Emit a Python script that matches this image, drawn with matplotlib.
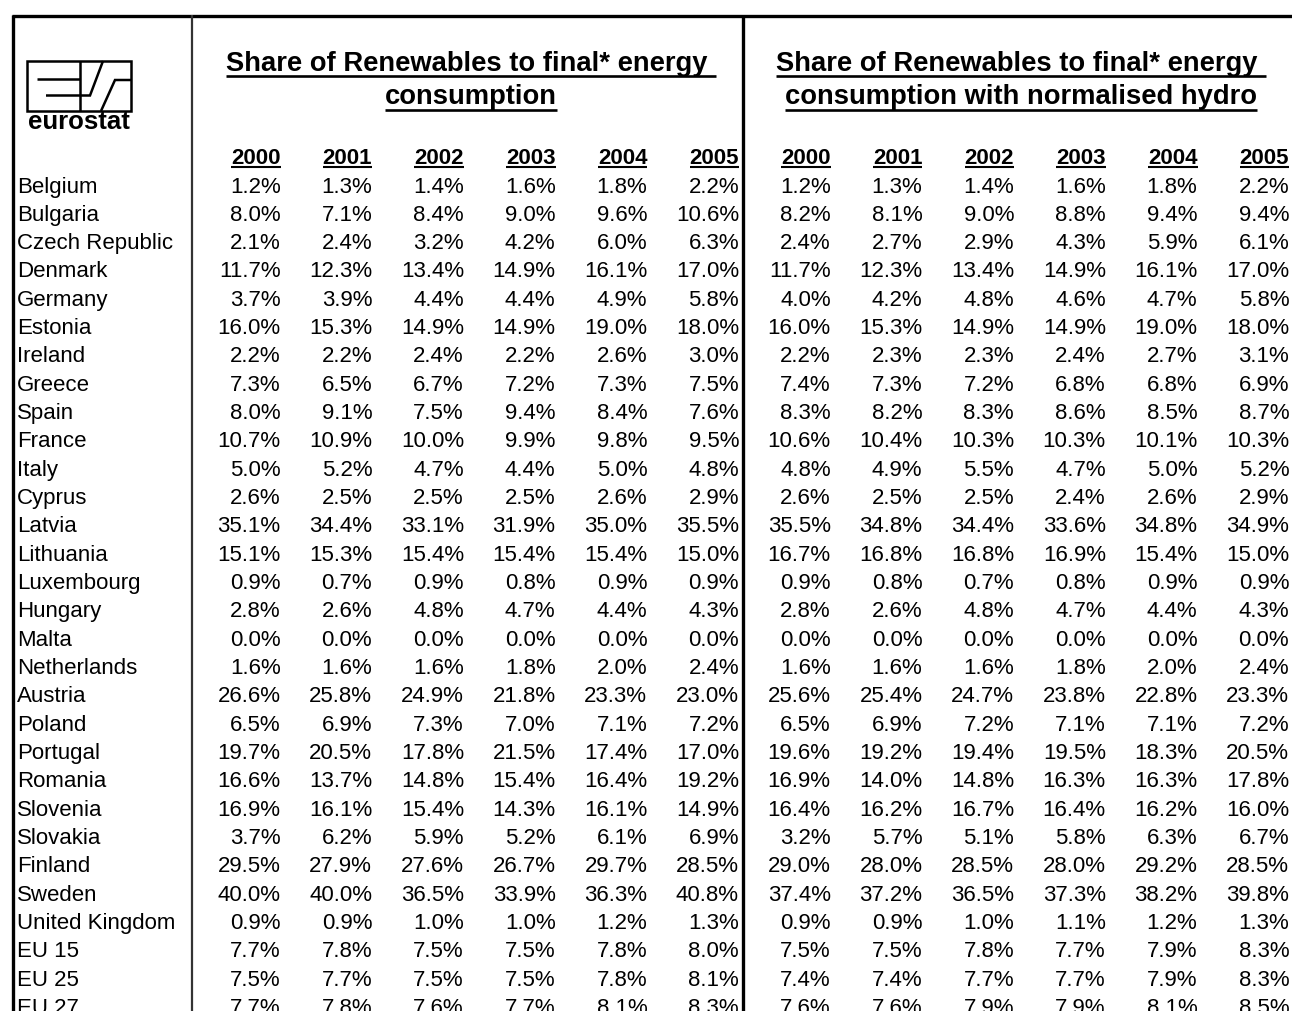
import matplotlib.pyplot as plt
from matplotlib.patches import Rectangle

plt.rcParams['font.family'] = ['Liberation Sans', 'DejaVu Sans']

countries = ['Belgium', 'Bulgaria', 'Czech Republic', 'Denmark', 'Germany', 'Estonia',
             'Ireland', 'Greece', 'Spain', 'France', 'Italy', 'Cyprus', 'Latvia',
             'Lithuania', 'Luxembourg', 'Hungary', 'Malta', 'Netherlands', 'Austria',
             'Poland', 'Portugal', 'Romania', 'Slovenia', 'Slovakia', 'Finland',
             'Sweden', 'United Kingdom', 'EU 15', 'EU 25', 'EU 27']
years = ['2000', '2001', '2002', '2003', '2004', '2005']

# share of renewables to final energy consumption (%)
share = [
    [1.2, 1.3, 1.4, 1.6, 1.8, 2.2],
    [8.0, 7.1, 8.4, 9.0, 9.6, 10.6],
    [2.1, 2.4, 3.2, 4.2, 6.0, 6.3],
    [11.7, 12.3, 13.4, 14.9, 16.1, 17.0],
    [3.7, 3.9, 4.4, 4.4, 4.9, 5.8],
    [16.0, 15.3, 14.9, 14.9, 19.0, 18.0],
    [2.2, 2.2, 2.4, 2.2, 2.6, 3.0],
    [7.3, 6.5, 6.7, 7.2, 7.3, 7.5],
    [8.0, 9.1, 7.5, 9.4, 8.4, 7.6],
    [10.7, 10.9, 10.0, 9.9, 9.8, 9.5],
    [5.0, 5.2, 4.7, 4.4, 5.0, 4.8],
    [2.6, 2.5, 2.5, 2.5, 2.6, 2.9],
    [35.1, 34.4, 33.1, 31.9, 35.0, 35.5],
    [15.1, 15.3, 15.4, 15.4, 15.4, 15.0],
    [0.9, 0.7, 0.9, 0.8, 0.9, 0.9],
    [2.8, 2.6, 4.8, 4.7, 4.4, 4.3],
    [0.0, 0.0, 0.0, 0.0, 0.0, 0.0],
    [1.6, 1.6, 1.6, 1.8, 2.0, 2.4],
    [26.6, 25.8, 24.9, 21.8, 23.3, 23.0],
    [6.5, 6.9, 7.3, 7.0, 7.1, 7.2],
    [19.7, 20.5, 17.8, 21.5, 17.4, 17.0],
    [16.6, 13.7, 14.8, 15.4, 16.4, 19.2],
    [16.9, 16.1, 15.4, 14.3, 16.1, 14.9],
    [3.7, 6.2, 5.9, 5.2, 6.1, 6.9],
    [29.5, 27.9, 27.6, 26.7, 29.7, 28.5],
    [40.0, 40.0, 36.5, 33.9, 36.3, 40.8],
    [0.9, 0.9, 1.0, 1.0, 1.2, 1.3],
    [7.7, 7.8, 7.5, 7.5, 7.8, 8.0],
    [7.5, 7.7, 7.5, 7.5, 7.8, 8.1],
    [7.7, 7.8, 7.6, 7.7, 8.1, 8.3],
]

# same, with normalised hydro (%)
share_hydro = [
    [1.2, 1.3, 1.4, 1.6, 1.8, 2.2],
    [8.2, 8.1, 9.0, 8.8, 9.4, 9.4],
    [2.4, 2.7, 2.9, 4.3, 5.9, 6.1],
    [11.7, 12.3, 13.4, 14.9, 16.1, 17.0],
    [4.0, 4.2, 4.8, 4.6, 4.7, 5.8],
    [16.0, 15.3, 14.9, 14.9, 19.0, 18.0],
    [2.2, 2.3, 2.3, 2.4, 2.7, 3.1],
    [7.4, 7.3, 7.2, 6.8, 6.8, 6.9],
    [8.3, 8.2, 8.3, 8.6, 8.5, 8.7],
    [10.6, 10.4, 10.3, 10.3, 10.1, 10.3],
    [4.8, 4.9, 5.5, 4.7, 5.0, 5.2],
    [2.6, 2.5, 2.5, 2.4, 2.6, 2.9],
    [35.5, 34.8, 34.4, 33.6, 34.8, 34.9],
    [16.7, 16.8, 16.8, 16.9, 15.4, 15.0],
    [0.9, 0.8, 0.7, 0.8, 0.9, 0.9],
    [2.8, 2.6, 4.8, 4.7, 4.4, 4.3],
    [0.0, 0.0, 0.0, 0.0, 0.0, 0.0],
    [1.6, 1.6, 1.6, 1.8, 2.0, 2.4],
    [25.6, 25.4, 24.7, 23.8, 22.8, 23.3],
    [6.5, 6.9, 7.2, 7.1, 7.1, 7.2],
    [19.6, 19.2, 19.4, 19.5, 18.3, 20.5],
    [16.9, 14.0, 14.8, 16.3, 16.3, 17.8],
    [16.4, 16.2, 16.7, 16.4, 16.2, 16.0],
    [3.2, 5.7, 5.1, 5.8, 6.3, 6.7],
    [29.0, 28.0, 28.5, 28.0, 29.2, 28.5],
    [37.4, 37.2, 36.5, 37.3, 38.2, 39.8],
    [0.9, 0.9, 1.0, 1.1, 1.2, 1.3],
    [7.5, 7.5, 7.8, 7.7, 7.9, 8.3],
    [7.4, 7.4, 7.7, 7.7, 7.9, 8.3],
    [7.6, 7.6, 7.9, 7.9, 8.1, 8.5],
]

title_left = ['Share of Renewables to final* energy ', 'consumption']
title_right = ['Share of Renewables to final* energy ', 'consumption with normalised hydro']

W, H = 1292, 1012
fig = plt.figure(figsize=(W / 100, H / 100), dpi=100)
ax = fig.add_axes([0, 0, 1, 1])
ax.set_xlim(0, W)
ax.set_ylim(H, 0)
ax.axis('off')

FS = 16
underlines = []  # (text, y, linewidth)

# frame lines
ax.plot([12, W], [17, 17], color='black', lw=2.4, solid_capstyle='butt')
ax.plot([13, 13], [16, H], color='black', lw=2.4, solid_capstyle='butt')
ax.plot([192, 192], [16, H], color='#333333', lw=1.6, solid_capstyle='butt')
ax.plot([743, 743], [16, H], color='black', lw=2.4, solid_capstyle='butt')

# eurostat logo
ax.add_patch(Rectangle((27, 62), 104, 50, fill=False, ec='black', lw=1.8))
logo = dict(color='black', lw=1.8, solid_capstyle='butt', solid_joinstyle='miter')
ax.plot([80, 80], [62, 112], **logo)
ax.plot([37, 80], [80, 80], **logo)
ax.plot([46, 90, 103], [96.5, 96.5, 62], **logo)
ax.plot([101, 115, 131], [112, 81, 81], **logo)
ax.text(79, 129, 'eurostat', fontsize=18.5, fontweight='bold', ha='center', va='baseline')

# titles
for cx, lines in [(471, title_left), (1021, title_right)]:
    for k, line in enumerate(lines):
        yb = 70.7 + 33.3 * k
        t = ax.text(cx, yb, line, fontsize=19.7, fontweight='bold', ha='center', va='baseline')
        underlines.append((t, yb + 6.5, 1.9))

# column right edges
col_x = [280.5 + 91.7 * j for j in range(12)]

for j in range(12):
    t = ax.text(col_x[j], 164, years[j % 6], fontsize=FS, fontweight='bold',
                ha='right', va='baseline')
    underlines.append((t, 168, 1.5))

for i, name in enumerate(countries):
    yb = 192.5 + 28.33 * i
    ax.text(17, yb, name, fontsize=FS, ha='left', va='baseline')
    row = share[i] + share_hydro[i]
    for j, v in enumerate(row):
        ax.text(col_x[j], yb, f'{v:.1f}%', fontsize=FS, ha='right', va='baseline')

r = fig.canvas.get_renderer()
inv = ax.transData.inverted()
for t, y, lw in underlines:
    bb = t.get_window_extent(r)
    x0, _ = inv.transform((bb.x0, bb.y0))
    x1, _ = inv.transform((bb.x1, bb.y0))
    ax.plot([x0, x1], [y, y], color='black', lw=lw, solid_capstyle='butt')

fig.savefig('out.png', dpi=100)
